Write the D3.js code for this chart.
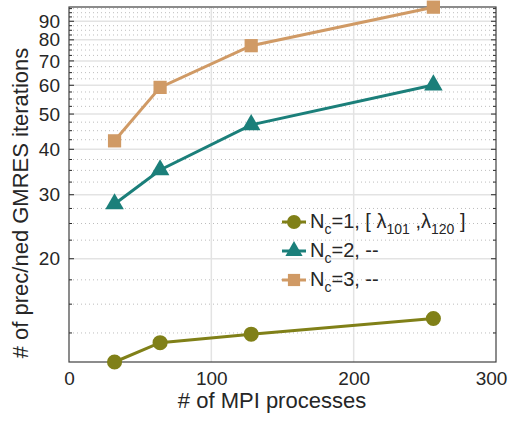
<!DOCTYPE html>
<html lang="en">
<head>
    <meta charset="UTF-8">
    <title>GMRES iterations</title>
    <style>
        body { margin: 0; background: #fff; }
        svg text { font-family: "Liberation Sans", Arial, sans-serif; fill: #262626; }
    </style>
</head>
<body>
    <div class="canvas"></div>
    <script src="https://d3js.org/d3.v7.min.js"></script>
    <script>
        // data
        const procs = [32, 64, 128, 256];
        const nc1 = [10.4, 11.75, 12.4, 13.7];
        const nc2 = [28.3, 35.1, 46.7, 60.1];
        const nc3 = [42.2, 59.2, 77.1, 98.4];
        const xTicks = [0, 100, 200, 300];
        const yTicks = [20, 30, 40, 50, 60, 70, 80, 90];

        const width = 509, height = 421;
        const margin = { top: 7, right: 13, bottom: 59, left: 69 };

        const svg = d3.select('.canvas')
            .append('svg')
            .attr('width', width)
            .attr('height', height);

        const x = d3.scaleLinear()
            .domain([0, 300])
            .range([margin.left, width - margin.right]);

        const y = d3.scaleLog()
            .domain([10.4, 98.5])
            .range([height - margin.bottom, margin.top]);

        const minorTicks = d3.range(12.5, 98.5, 2.5).filter(v => v % 10 !== 0);

        // grid
        const grid = svg.append('g');
        grid.selectAll('.minor')
            .data(minorTicks)
            .enter().append('line')
            .attr('x1', x(0)).attr('x2', x(300))
            .attr('y1', d => y(d)).attr('y2', d => y(d))
            .attr('stroke', '#bdbdbd')
            .attr('stroke-width', 1)
            .attr('stroke-dasharray', '1,3');
        grid.selectAll('.major')
            .data(yTicks)
            .enter().append('line')
            .attr('x1', x(0)).attr('x2', x(300))
            .attr('y1', d => y(d)).attr('y2', d => y(d))
            .attr('stroke', '#e3e3e3')
            .attr('stroke-width', 1.5);
        grid.selectAll('.vx')
            .data([100, 200])
            .enter().append('line')
            .attr('x1', d => x(d)).attr('x2', d => x(d))
            .attr('y1', y(10.4)).attr('y2', y(98.5))
            .attr('stroke', '#e3e3e3')
            .attr('stroke-width', 1.5);

        // axes
        const xAxis = svg.append('g')
            .attr('transform', `translate(0,${height - margin.bottom})`)
            .call(d3.axisBottom(x).tickValues(xTicks).tickSize(0).tickPadding(10));
        const yAxis = svg.append('g')
            .attr('transform', `translate(${margin.left},0)`)
            .call(d3.axisLeft(y).tickValues(yTicks).tickFormat(d3.format('d')).tickSize(0).tickPadding(9));
        [xAxis, yAxis].forEach(a => {
            a.select('.domain').remove();
            a.selectAll('text').style('font-size', '19px').attr('fill', '#262626');
        });
        // last x label sits against the page edge
        xAxis.selectAll('.tick text').filter(d => d === 300).attr('x', -5);

        // inner ticks left/right
        const tk = svg.append('g').attr('stroke', '#262626').attr('stroke-width', 1);
        yTicks.forEach(v => {
            tk.append('line').attr('x1', x(0)).attr('x2', x(0) + 5).attr('y1', y(v)).attr('y2', y(v));
            tk.append('line').attr('x1', x(300)).attr('x2', x(300) - 5).attr('y1', y(v)).attr('y2', y(v));
        });
        minorTicks.forEach(v => {
            tk.append('line').attr('x1', x(0)).attr('x2', x(0) + 3).attr('y1', y(v)).attr('y2', y(v));
            tk.append('line').attr('x1', x(300)).attr('x2', x(300) - 3).attr('y1', y(v)).attr('y2', y(v));
        });

        // box
        svg.append('rect')
            .attr('x', x(0)).attr('y', y(98.5))
            .attr('width', x(300) - x(0))
            .attr('height', y(10.4) - y(98.5))
            .attr('fill', 'none')
            .attr('stroke', '#404040')
            .attr('stroke-width', 1.2);

        const series = [
            { name: '1', vals: nc1, color: '#808018', shape: d3.symbolCircle, size: 180 },
            { name: '2', vals: nc2, color: '#1b7f7a', shape: d3.symbolTriangle, size: 150 },
            { name: '3', vals: nc3, color: '#d09a65', shape: d3.symbolSquare, size: 175 }
        ];

        const line = d3.line()
            .x((d, i) => x(procs[i]))
            .y(d => y(d));

        series.forEach(s => {
            svg.append('path')
                .datum(s.vals)
                .attr('d', line)
                .attr('fill', 'none')
                .attr('stroke', s.color)
                .attr('stroke-width', 3);
            svg.selectAll(null)
                .data(s.vals)
                .enter().append('path')
                .attr('d', d3.symbol().type(s.shape).size(s.size))
                .attr('transform', (d, i) => `translate(${x(procs[i])},${y(d)})`)
                .attr('fill', s.color);
        });

        // legend
        const legend = svg.append('g').attr('transform', 'translate(282,222)');
        series.forEach((s, i) => {
            const row = legend.append('g').attr('transform', `translate(0,${i * 29})`);
            row.append('line')
                .attr('x1', 0).attr('x2', 24)
                .attr('stroke', s.color).attr('stroke-width', 3);
            row.append('path')
                .attr('d', d3.symbol().type(s.shape).size(s.size * 0.85))
                .attr('transform', 'translate(12,0)')
                .attr('fill', s.color);
            const t = row.append('text')
                .attr('x', 28).attr('y', 6)
                .style('font-size', '20px');
            t.append('tspan').text('N');
            t.append('tspan').attr('dy', 6).style('font-size', '14px').text('c');
            if (i === 0) {
                t.append('tspan').attr('dy', -6).text('=1, [  λ');
                t.append('tspan').attr('dy', 6).style('font-size', '14px').text('101');
                t.append('tspan').attr('dy', -6).text(' ,λ');
                t.append('tspan').attr('dy', 6).style('font-size', '14px').text('120');
                t.append('tspan').attr('dy', -6).text(' ]');
            } else {
                t.append('tspan').attr('dy', -6).text(`=${s.name}, --`);
            }
        });

        // axis labels
        svg.append('text')
            .attr('x', 272).attr('y', 408)
            .attr('text-anchor', 'middle')
            .style('font-size', '22px')
            .text('# of MPI processes');
        svg.append('text')
            .attr('transform', 'translate(28,203) rotate(-90)')
            .attr('text-anchor', 'middle')
            .style('font-size', '22px')
            .text('# of prec/ned GMRES iterations');
    </script>
</body>
</html>
